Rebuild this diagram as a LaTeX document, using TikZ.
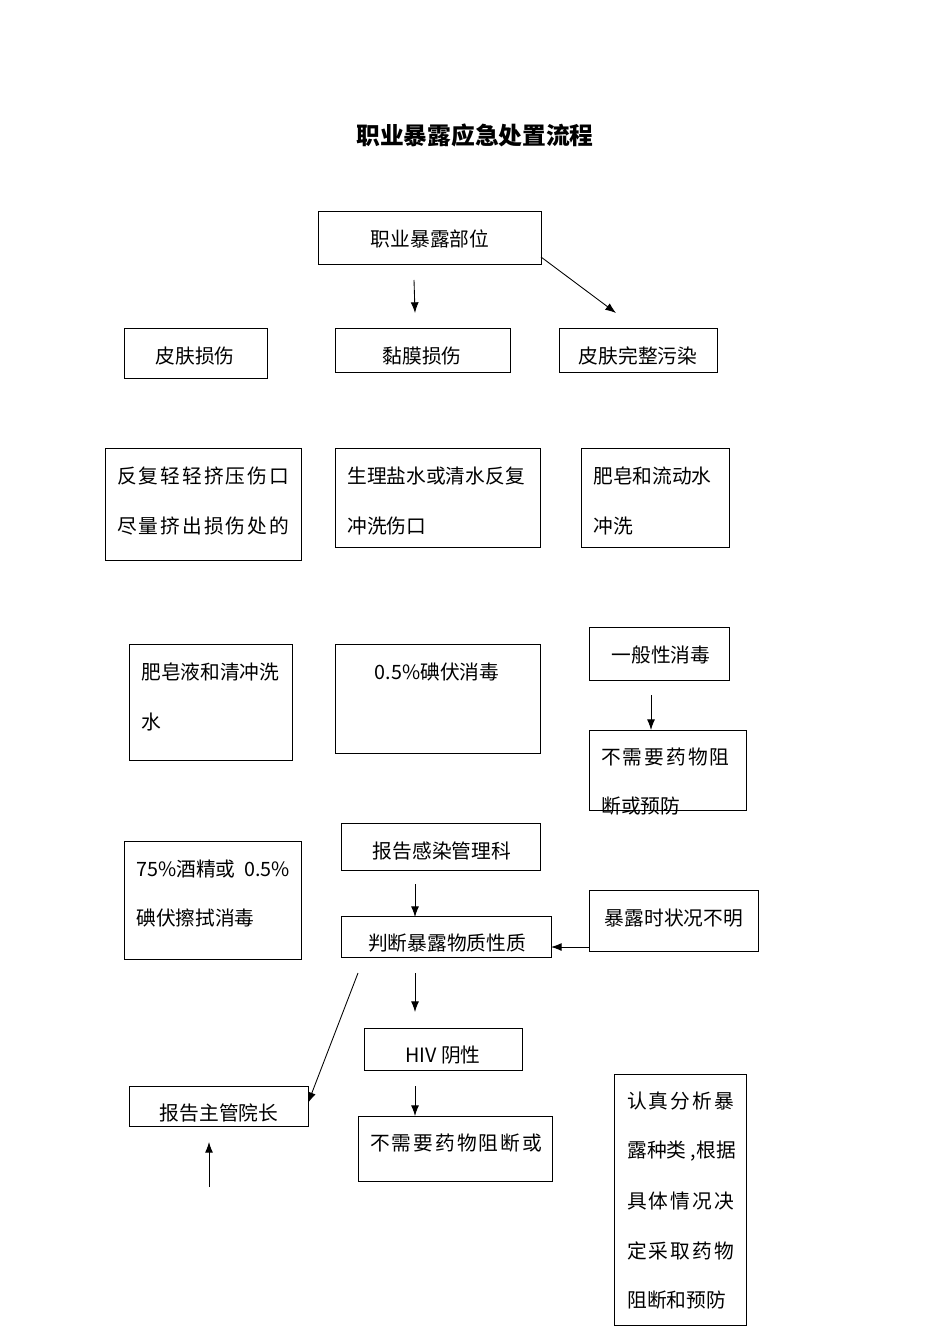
\documentclass[tikz,border=0pt]{standalone}
\usepackage{fontspec}
\setmainfont{Noto Sans CJK SC}
\newfontfamily\cjk{Noto Sans CJK SC}
\usetikzlibrary{arrows.meta,fit}
\tikzset{
  box/.style={draw=black, line width=0.65pt, inner sep=0pt, rectangle},
  txt/.style={inner sep=0pt, font=\fontsize{14.8pt}{16pt}\selectfont},
  txtsp/.style={inner sep=0pt, font=\fontsize{14.8pt}{16pt}\selectfont\addfontfeature{LetterSpace=10}},
  arr/.style={draw=black, line width=0.65pt, -{Latex[length=8pt,width=6pt]}},
  ttl/.style={inner sep=0pt, font=\fontsize{17.8pt}{20pt}\selectfont\bfseries}
}
\begin{document}
\begin{tikzpicture}[x=0.75pt,y=-0.75pt]
\useasboundingbox (0,0) rectangle (950,1344);
\fill[white] (0,0) rectangle (950,1344);

% title
\node[ttl] (title) at (475,135) {职业暴露应急处置流程};

% boxes
\node[box, fit={(318,211) (541,264)}] (top) {};
\node[txt] (toptx) at (430,239) {职业暴露部位};

\node[box, fit={(124,328) (267,378)}] (skin) {};
\node[txt] at (195,356) {皮肤损伤};
\node[box, fit={(335,328) (510,372)}] (muc) {};
\node[txt] at (422,356) {黏膜损伤};
\node[box, fit={(559,328) (717,372)}] (intact) {};
\node[txt] at (638,356) {皮肤完整污染};

\node[box, fit={(105,448) (301,560)}] (squeeze) {};
\node[txtsp, anchor=west] at (117,476) {反复轻轻挤压伤口};
\node[txtsp, anchor=west] at (117,526) {尽量挤出损伤处的};

\node[box, fit={(335,448) (540,547)}] (saline) {};
\node[txt, anchor=west] at (347,476) {生理盐水或清水反复};
\node[txt, anchor=west] at (347,526) {冲洗伤口};

\node[box, fit={(581,448) (729,547)}] (soapflow) {};
\node[txt, anchor=west] at (593,476) {肥皂和流动水};
\node[txt, anchor=west] at (593,526) {冲洗};

\node[box, fit={(129,644) (292,760)}] (soapwash) {};
\node[txt, anchor=west] at (141,672) {肥皂液和清冲洗};
\node[txt, anchor=west] at (141,722) {水};

\node[box, fit={(335,644) (540,753)}] (iodine) {};
\node[txt] at (437,672) {0.5\%碘伏消毒};

\node[box, fit={(589,627) (729,680)}] (general) {};
\node[txt] at (661,655) {一般性消毒};

\node[box, fit={(589,730) (746,810)}] (noneed1) {};
\node[txtsp, anchor=west] at (601,757) {不需要药物阻};
\node[txt, anchor=west] at (601,806) {断或预防};

\node[box, fit={(124,841) (301,959)}] (alcohol) {};
\node[txt, anchor=west] at (136,869) {75\%酒精或\ \ 0.5\%};
\node[txt, anchor=west] at (136,918) {碘伏擦拭消毒};

\node[box, fit={(341,823) (540,870)}] (report1) {};
\node[txt] at (442,851) {报告感染管理科};

\node[box, fit={(341,916) (551,957)}] (judge) {};
\node[txt] at (447,943) {判断暴露物质性质};

\node[box, fit={(589,890) (758,951)}] (unknown) {};
\node[txt] at (674,918) {暴露时状况不明};

\node[box, fit={(364,1028) (522,1070)}] (hiv) {};
\node[txt] at (443,1055) {HIV 阴性};

\node[box, fit={(129,1086) (308,1126)}] (report2) {};
\node[txt] at (219,1113) {报告主管院长};

\node[box, fit={(358,1116) (552,1181)}] (noneed2) {};
\node[txtsp, anchor=west] at (370,1143) {不需要药物阻断或};

\node[box, fit={(614,1074) (746,1325)}] (analyze) {};
\node[txtsp, anchor=west] at (627,1101) {认真分析暴};
\node[txt, anchor=west] at (627,1151) {露种类 ,根据};
\node[txtsp, anchor=west] at (627,1201) {具体情况决};
\node[txtsp, anchor=west] at (627,1251) {定采取药物};
\node[txt, anchor=west] at (627,1300) {阻断和预防};

% arrow end points
\coordinate (a1s) at (414,280); \coordinate (a1e) at (415,313);
\coordinate (a2s) at (541,257); \coordinate (a2e) at (616,313);
\coordinate (a3s) at (651,695); \coordinate (a3e) at (651,730);
\coordinate (a4s) at (415,884); \coordinate (a4e) at (415,917);
\coordinate (a5s) at (589,947); \coordinate (a5e) at (551,947);
\coordinate (a6s) at (358,973); \coordinate (a6e) at (308,1103);
\coordinate (a7s) at (415,973); \coordinate (a7e) at (415,1012);
\coordinate (a8s) at (415,1086); \coordinate (a8e) at (415,1116);
\coordinate (a9s) at (209,1187); \coordinate (a9e) at (209,1142);

\draw[arr] (a1s) -- (a1e);
\draw[arr] (a2s) -- (a2e);
\draw[arr] (a3s) -- (a3e);
\draw[arr] (a4s) -- (a4e);
\draw[arr] (a5s) -- (a5e);
\draw[arr] (a6s) -- (a6e);
\draw[arr] (a7s) -- (a7e);
\draw[arr] (a8s) -- (a8e);
\draw[arr] (a9s) -- (a9e);
\end{tikzpicture}
\end{document}
